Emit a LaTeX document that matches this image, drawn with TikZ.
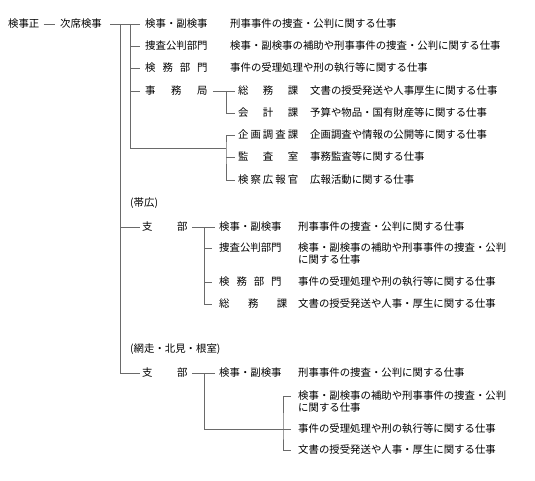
\documentclass[tikz,border=0pt]{standalone}
\usepackage{fontspec}
\newfontfamily\jp{Noto Sans CJK JP}
\definecolor{lncol}{HTML}{6A6A6A}
\newcommand\sprd[2]{\makebox[#1][s]{#2}}
\tikzset{
  jt/.style={font=\jp\fontsize{10.4pt}{12pt}\selectfont, inner sep=0pt, text height=9.15pt, text depth=1.25pt, anchor=west},
  jtwo/.style={font=\jp\fontsize{10.4pt}{12pt}\selectfont, inner sep=0pt, anchor=base west},
  tree/.style={draw=lncol, line width=0.9pt}
}
\begin{document}
\begin{tikzpicture}[x=1pt,y=-1pt]
\useasboundingbox (0,0) rectangle (535,481);
% head
\node[jt] (k0) at (8,24) {検事正};
\node[jt] (k1) at (60,24) {次席検事};
\draw[tree] ([xshift=4pt]k0.east) -- ([xshift=-5pt]k1.west);
% main items
\node[jt] (a1) at (145,24) {検事・副検事};
\node[jt] (a2) at (145,46) {捜査公判部門};
\node[jt] (a3) at (145,68) {\sprd{62.4pt}{検\hfill 務\hfill 部\hfill 門}};
\node[jt] (a4) at (145,91) {\sprd{62.4pt}{事\hfill 務\hfill 局}};
\node[jt] (d1) at (230,24) {刑事事件の捜査・公判に関する仕事};
\node[jt] (d2) at (230,46) {検事・副検事の補助や刑事事件の捜査・公判に関する仕事};
\node[jt] (d3) at (230,68) {事件の受理処理や刑の執行等に関する仕事};
% sub items
\node[jt] (b1) at (238,91) {\sprd{60pt}{総\hfill 務\hfill 課}};
\node[jt] (b2) at (238,113) {\sprd{60pt}{会\hfill 計\hfill 課}};
\node[jt] (c1) at (238,135) {\sprd{60pt}{企\hfill 画\hfill 調\hfill 査\hfill 課}};
\node[jt] (c2) at (238,157) {\sprd{60pt}{監\hfill 査\hfill 室}};
\node[jt] (c3) at (238,180) {\sprd{60pt}{検\hfill 察\hfill 広\hfill 報\hfill 官}};
\node[jt] (bd1) at (310,91) {文書の授受発送や人事厚生に関する仕事};
\node[jt] (bd2) at (310,113) {予算や物品・国有財産等に関する仕事};
\node[jt] (cd1) at (310,135) {企画調査や情報の公開等に関する仕事};
\node[jt] (cd2) at (310,157) {事務監査等に関する仕事};
\node[jt] (cd3) at (310,180) {広報活動に関する仕事};
% branch obihiro
\node[jt] (ob) at (130,203) {(帯広)};
\node[jt] (s1) at (142,227) {\sprd{45.4pt}{支\hfill 部}};
\node[jt] (e1) at (219,227) {検事・副検事};
\node[jt] (e2) at (219,248) {捜査公判部門};
\node[jt] (e3) at (219,282) {\sprd{62.4pt}{検\hfill 務\hfill 部\hfill 門}};
\node[jt] (e4) at (219,304) {\sprd{68pt}{総\hfill 務\hfill 課}};
\node[jt] (f1) at (298,227) {刑事事件の捜査・公判に関する仕事};
\node[jtwo] (f2) at (298,251.95) {\vtop{\baselineskip=11.5pt\hbox{検事・副検事の補助や刑事事件の捜査・公判}\hbox{に関する仕事}}};
\node[jt] (f3) at (298,282) {事件の受理処理や刑の執行等に関する仕事};
\node[jt] (f4) at (298,304) {文書の授受発送や人事・厚生に関する仕事};
% branch abashiri
\node[jt] (ab) at (130,349) {(網走・北見・根室)};
\node[jt] (s2) at (142,373) {\sprd{45.4pt}{支\hfill 部}};
\node[jt] (e5) at (219,373) {検事・副検事};
\node[jt] (f5) at (298,373) {刑事事件の捜査・公判に関する仕事};
\node[jtwo] (f6) at (298,399.95) {\vtop{\baselineskip=11.5pt\hbox{検事・副検事の補助や刑事事件の捜査・公判}\hbox{に関する仕事}}};
\node[jt] (f7) at (298,429) {事件の受理処理や刑の執行等に関する仕事};
\node[jt] (f8) at (298,450) {文書の授受発送や人事・厚生に関する仕事};
% junction coordinates
\coordinate (vA) at (120,24);
\coordinate (vB) at (130,24);
\coordinate (jA) at (226,91);
\coordinate (g2) at (226,148);
\coordinate (jB) at (204,227);
\coordinate (jC) at (204,373);
\coordinate (g3) at (283,429);
% connectors top
\draw[tree] ([xshift=8pt]k1.east) -- ([xshift=-5pt]a1.west);
\draw[tree] (vA) |- ([xshift=-2pt]s2.west);
\draw[tree] (s1.west -| vA) -- ([xshift=-2pt]s1.west);
\draw[tree] (vB) |- (g2);
\foreach \n in {a2,a3,a4} \draw[tree] (\n.west -| vB) -- ([xshift=-5pt]\n.west);
\draw[tree] ([xshift=5pt]a4.east) -- ([xshift=-3pt]b1.west);
\draw[tree] (jA) |- ([xshift=-3pt]b2.west);
\draw[tree] ([xshift=-3pt]c1.west) -| (g2) |- ([xshift=-3pt]c3.west);
\draw[tree] (c2.west -| g2) -- ([xshift=-3pt]c2.west);
% connectors obihiro
\draw[tree] ([xshift=4pt]s1.east) -- ([xshift=-4pt]e1.west);
\draw[tree] (jB) |- ([xshift=-7pt]e4.west);
\foreach \n in {e2,e3} \draw[tree] (\n.west -| jB) -- ([xshift=-7pt]\n.west);
% connectors abashiri
\draw[tree] ([xshift=4pt]s2.east) -- ([xshift=-4pt]e5.west);
\draw[tree] (jC) |- (g3);
\draw[tree] ([xshift=-7pt,yshift=3.95pt]f6.base west) -| (g3) |- ([xshift=-7pt]f8.west);
\draw[tree] (g3) -- ([xshift=-7pt]f7.west);
\end{tikzpicture}
\end{document}
